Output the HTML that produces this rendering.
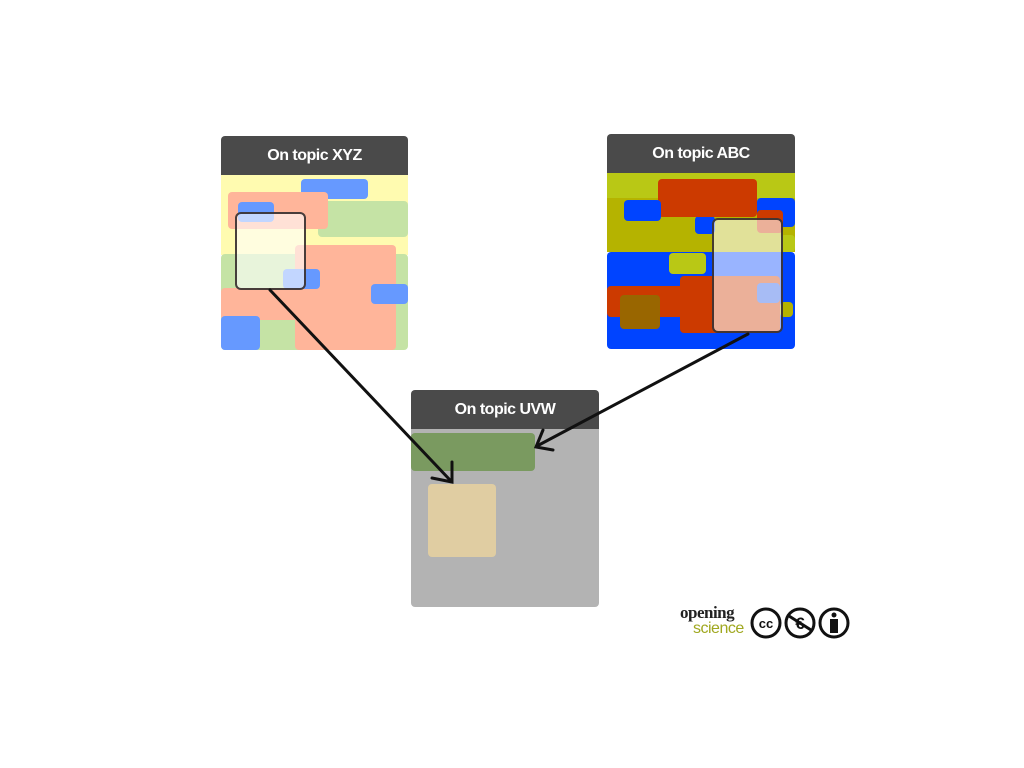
<!DOCTYPE html>
<html><head><meta charset="utf-8"><style>
body{margin:0;width:1024px;height:768px;background:#fff;position:relative;overflow:hidden;font-family:"Liberation Sans",sans-serif}
.r{position:absolute;border-radius:4px}
.h{position:absolute;background:#4a4a4a;border-radius:4px 4px 0 0;color:#fff;font-weight:bold;font-size:16px;text-align:center;line-height:39px;letter-spacing:-0.5px}
.ov{position:absolute;border:2px solid rgba(40,30,30,.85);border-radius:6px;box-sizing:border-box}
</style></head><body>
<!-- XYZ -->
<div>
<div class="h" style="left:221px;top:136px;width:187px;height:39px">On topic XYZ</div>
<div class="r" style="left:221px;top:175px;width:187px;height:80px;background:#fffbb0;border-radius:0"></div>
<div class="r" style="left:318px;top:201px;width:90px;height:36px;background:#c5e3a5"></div>
<div class="r" style="left:301px;top:179px;width:67px;height:20px;background:#6699ff"></div>
<div class="r" style="left:228px;top:192px;width:100px;height:37px;background:#ffb59a"></div>
<div class="r" style="left:238px;top:202px;width:36px;height:20px;background:#6699ff"></div>
<div class="r" style="left:221px;top:254px;width:187px;height:96px;background:#c5e3a5"></div>
<div class="r" style="left:295px;top:245px;width:101px;height:105px;background:#ffb59a"></div>
<div class="r" style="left:221px;top:288px;width:76px;height:32px;background:#ffb59a"></div>
<div class="r" style="left:221px;top:316px;width:39px;height:34px;background:#6699ff"></div>
<div class="r" style="left:371px;top:284px;width:37px;height:20px;background:#6699ff"></div>
<div class="r" style="left:283px;top:269px;width:37px;height:20px;background:#6699ff"></div>
<div class="ov" style="left:235px;top:212px;width:71px;height:78px;background:rgba(255,255,255,.6)"></div>
</div>
<!-- ABC -->
<div>
<div class="h" style="left:607px;top:134px;width:188px;height:39px">On topic ABC</div>
<div class="r" style="left:607px;top:173px;width:188px;height:26px;background:#b9c815;border-radius:0"></div>
<div class="r" style="left:607px;top:198px;width:188px;height:54px;background:#b5b300;border-radius:0"></div>
<div class="r" style="left:757px;top:198px;width:38px;height:29px;background:#0044ff"></div>
<div class="r" style="left:695px;top:216px;width:20px;height:18px;background:#0044ff"></div>
<div class="r" style="left:780px;top:235px;width:15px;height:17px;background:#b9c815"></div>
<div class="r" style="left:658px;top:179px;width:99px;height:38px;background:#cc3a00"></div>
<div class="r" style="left:757px;top:210px;width:26px;height:23px;background:#cc3a00"></div>
<div class="r" style="left:624px;top:200px;width:37px;height:21px;background:#0044ff"></div>
<div class="r" style="left:607px;top:252px;width:188px;height:97px;background:#0044ff"></div>
<div class="r" style="left:669px;top:253px;width:37px;height:21px;background:#b9c815"></div>
<div class="r" style="left:607px;top:286px;width:150px;height:31px;background:#cc3a00"></div>
<div class="r" style="left:680px;top:276px;width:100px;height:57px;background:#cc3a00"></div>
<div class="r" style="left:780px;top:302px;width:13px;height:15px;background:#b5b300"></div>
<div class="r" style="left:620px;top:295px;width:40px;height:34px;background:#996600"></div>
<div class="ov" style="left:712px;top:218px;width:71px;height:115px;background:rgba(255,255,255,.6)"></div>
<div class="r" style="left:757px;top:283px;width:23px;height:20px;background:rgba(160,190,255,.9)"></div>
</div>
<!-- UVW -->
<div>
<div class="h" style="left:411px;top:390px;width:188px;height:39px">On topic UVW</div>
<div class="r" style="left:411px;top:429px;width:188px;height:178px;background:#b3b3b3;border-radius:0 0 4px 4px"></div>
<div class="r" style="left:411px;top:433px;width:124px;height:38px;background:#7a9a60"></div>
<div class="r" style="left:428px;top:484px;width:68px;height:73px;background:#e0cda2"></div>
</div>
<svg width="1024" height="768" style="position:absolute;left:0;top:0">
<g stroke="#111" stroke-width="3" fill="none" stroke-linecap="round">
<line x1="270" y1="290" x2="450" y2="480"/>
<path d="M452 462 L452 482 L432 478"/>
<line x1="748" y1="334" x2="537" y2="446"/>
<path d="M543 430 L536 447 L553 450"/>
</g>
</svg>
<div>
<div style="position:absolute;left:680px;top:603px;font:bold 17px 'Liberation Serif',serif;color:#222;letter-spacing:-0.5px">opening</div>
<div style="position:absolute;left:693px;top:620px;font:16px 'Liberation Sans',sans-serif;color:#a0a820;letter-spacing:-0.5px">science</div>
</div>
<svg width="100" height="36" style="position:absolute;left:750px;top:606px">
<g stroke="#111" stroke-width="3" fill="#fff">
<circle cx="16" cy="17" r="14"/><circle cx="50" cy="17" r="14"/><circle cx="84" cy="17" r="14"/>
</g>
<text x="16" y="22" text-anchor="middle" font-family="Liberation Sans" font-weight="bold" font-size="13" fill="#111">cc</text>
<text x="50" y="23" text-anchor="middle" font-family="Liberation Sans" font-weight="bold" font-size="17" fill="#111">€</text>
<line x1="39" y1="10" x2="61" y2="24" stroke="#111" stroke-width="3"/>
<circle cx="84" cy="9" r="2.5" fill="#111"/>
<rect x="80" y="13" width="8" height="14" fill="#111"/>
</svg>
</body></html>
